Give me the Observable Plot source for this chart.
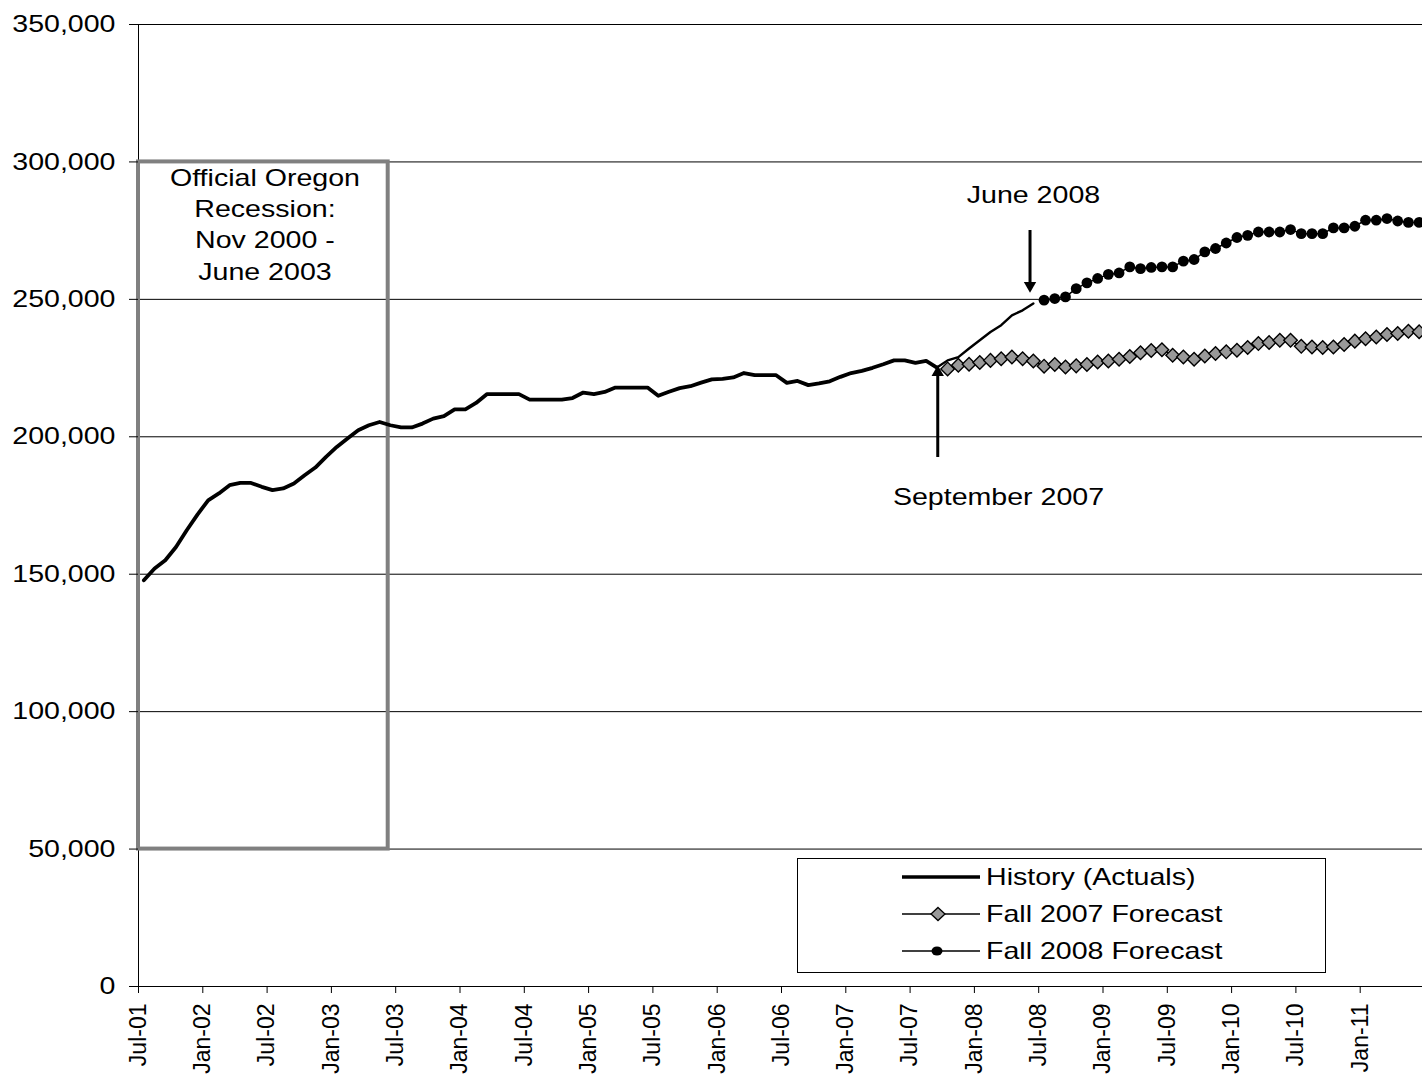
<!DOCTYPE html>
<html>
<head>
<meta charset="utf-8">
<script src="https://cdn.jsdelivr.net/npm/d3@7"></script>
<script src="https://cdn.jsdelivr.net/npm/@observablehq/plot@0.6"></script>
<style>
  body { margin: 0; background: #fff; }
  #wrap { position: relative; width: 1422px; height: 1081px; overflow: hidden; font-family: "Liberation Sans", Arial, sans-serif; }
  #legend { position: absolute; left: 797px; top: 858px; width: 527px; height: 113px; border: 1px solid #000; background: #fff; }
  #legend .sym { position: absolute; left: 104px; width: 82px; height: 30px; }
  #legend .lab { position: absolute; left: 188px; height: 30px; line-height: 30px; font-size: 24px; white-space: nowrap; transform: scaleX(1.19); transform-origin: left center; color: #000; }
</style>
</head>
<body>
<div id="wrap"></div>
<script>
// ---------- data ----------
const tickLabels = ["Jul-01","Jan-02","Jul-02","Jan-03","Jul-03","Jan-04","Jul-04","Jan-05","Jul-05","Jan-06",
                    "Jul-06","Jan-07","Jul-07","Jan-08","Jul-08","Jan-09","Jul-09","Jan-10","Jul-10","Jan-11"];
const yTicks = [0, 50000, 100000, 150000, 200000, 250000, 300000, 350000];

// month index 0 = Jul-01
const historyStart = 0;   // Jul-01 .. Sep-07
const historyValues = [
  147800,152100,155100,159900,166000,171700,176900,179400,182400,183200,183200,181800,
  180600,181200,183000,186000,188800,192700,196300,199400,202400,204200,205400,204200,
  203400,203400,204800,206600,207500,210000,210000,212300,215500,215500,215500,215500,
  213500,213500,213500,213500,214100,216100,215500,216300,217900,217900,217900,217900,
  214900,216400,217700,218400,219700,220900,221100,221600,223200,222400,222400,222400,
  219600,220300,218800,219400,220200,221800,223200,224000,225100,226400,227800,227800,
  226900,227600,225200
];
const recentStart = 74;   // Sep-07 .. Jun-08
const recentValues = [225200,227800,229000,232100,235100,238100,240600,244200,246000,248500];

const fall2007Start = 75; // Oct-07 ..
const fall2007Values = [
  224700,226000,226400,227000,227800,228400,229000,228400,227600,225700,226300,225400,
  225800,226300,227200,227600,228200,229200,230600,231400,231700,229700,229000,228200,
  229400,230300,230900,231500,232500,233900,234300,235100,235100,232900,232700,232500,
  232700,233600,234800,235700,236300,237200,237600,238400,238200
];
const fall2008Start = 84; // Jul-08 ..
const fall2008Values = [
  249700,250300,250900,253900,256000,257600,259100,259600,261800,261200,261600,261800,
  261800,263900,264500,267300,268500,270500,272500,273300,274500,274500,274500,275400,
  273900,273900,273900,276000,276000,276600,278800,278800,279400,278500,278000,278000
];
const legendNames = ["History (Actuals)", "Fall 2007 Forecast", "Fall 2008 Forecast"];

const recession = [{from: 0, to: 23.3, top: 300000, bottom: 50000}];
const notes = [
  {m: 11.8,  v: 299300, text: "Official Oregon\nRecession:\nNov 2000 -\nJune 2003"},
  {m: 83.51, v: 293000, text: "June 2008"},
  {m: 80.25, v: 183400, text: "September 2007"}
];
const arrows = [
  {m: 83.19, from: 275050, head: 255010, rot: 180},
  {m: 74.58, from: 192470, head: 223430, rot: 0}
];

// ---------- build ----------
const pts = (start, vals) => vals.map((v, i) => ({m: start + i, v}));
const history = pts(historyStart, historyValues);
const recent = pts(recentStart, recentValues);
const f2007 = pts(fall2007Start, fall2007Values);
const f2008 = pts(fall2008Start, fall2008Values);
const mx = d => d.m + 0.5; // points sit between tick marks (mid-month)

const FONT = "Liberation Sans, Arial, sans-serif";

const chart = Plot.plot({
  width: 1422,
  height: 1081,
  marginLeft: 138,
  marginRight: 0,
  marginTop: 24,
  marginBottom: 95,
  style: {fontFamily: FONT, fontSize: "24px", color: "#000", background: "#fff"},
  x: {type: "linear", domain: [0, 120], range: [138, 1424]},
  y: {domain: [0, 350000], range: [986, 24]},
  marks: [
    Plot.ruleY(yTicks, {stroke: "#000", strokeWidth: 1}),
    Plot.ruleX([0], {y1: 0, y2: 350000, stroke: "#000", strokeWidth: 1}),
    Plot.rect(recession, {x1: "from", x2: "to", y1: "bottom", y2: "top", fill: "none", stroke: "#808080", strokeWidth: 4}),
    Plot.line(history, {x: mx, y: "v", stroke: "#000", strokeWidth: 3.8}),
    Plot.line(recent, {x: mx, y: "v", stroke: "#000", strokeWidth: 2.4}),
    Plot.line(f2007, {x: mx, y: "v", stroke: "#000", strokeWidth: 1.5}),
    Plot.dot(f2007, {x: mx, y: "v", symbol: "diamond2", r: 6.1, fill: "#999999", stroke: "#000", strokeWidth: 1.4}),
    Plot.line(f2008, {x: mx, y: "v", stroke: "#000", strokeWidth: 1.5}),
    Plot.dot(f2008, {x: mx, y: "v", r: 5.4, fill: "#000", stroke: "none"}),
    Plot.ruleX(arrows, {x: "m", y1: "from", y2: "head", stroke: "#000", strokeWidth: 3}),
    Plot.dot(arrows, {x: "m", y: "head", symbol: "triangle", r: 4.6, rotate: "rot", fill: "#000", stroke: "none"}),
    Plot.text(notes, {x: "m", y: "v", text: "text", lineAnchor: "top", lineHeight: 1.3, fontSize: 24, fill: "#000"}),
    Plot.axisY({ticks: yTicks, tickSize: 9, tickPadding: 14, tickFormat: d3.format(","), label: null, fontSize: 24}),
    Plot.axisX({ticks: d3.range(0, 120, 6), tickSize: 7, tickPadding: 10, tickRotate: -90,
                tickFormat: d => tickLabels[d / 6], label: null, fontSize: 23})
  ]
});

const wrap = document.getElementById("wrap");
wrap.appendChild(chart);

// horizontal stretch of upright texts (the reference is drawn wider than tall)
const STRETCH = 1.19;
chart.querySelectorAll("text").forEach(t => {
  const ctm = t.getCTM();
  if (ctm && Math.abs(ctm.b) > 0.01) return;
  const parts = t.querySelectorAll("tspan");
  const targets = parts.length ? Array.from(parts) : [t];
  targets.forEach(el => {
    const w = el.getComputedTextLength();
    if (w > 0) {
      el.setAttribute("textLength", (w * STRETCH).toFixed(2));
      el.setAttribute("lengthAdjust", "spacingAndGlyphs");
    }
  });
});

// legend
const legend = document.createElement("div");
legend.id = "legend";
const symbols = [
  '<line x1="0" y1="15" x2="78" y2="15" stroke="#000" stroke-width="3.5"/>',
  '<line x1="0" y1="15" x2="78" y2="15" stroke="#000" stroke-width="1.7"/><path d="M36,8.5L43,15L36,21.5L29,15Z" fill="#999" stroke="#000" stroke-width="1.3"/>',
  '<line x1="0" y1="15" x2="78" y2="15" stroke="#000" stroke-width="1.7"/><ellipse cx="35" cy="15" rx="5.5" ry="4.6" fill="#000"/>'
];
legendNames.forEach((name, i) => {
  const top = 3 + i * 37;
  const s = document.createElement("div");
  s.className = "sym";
  s.style.top = top + "px";
  s.innerHTML = '<svg width="82" height="30">' + symbols[i] + '</svg>';
  const l = document.createElement("div");
  l.className = "lab";
  l.style.top = top + "px";
  l.textContent = name;
  legend.appendChild(s);
  legend.appendChild(l);
});
wrap.appendChild(legend);
</script>
</body>
</html>
